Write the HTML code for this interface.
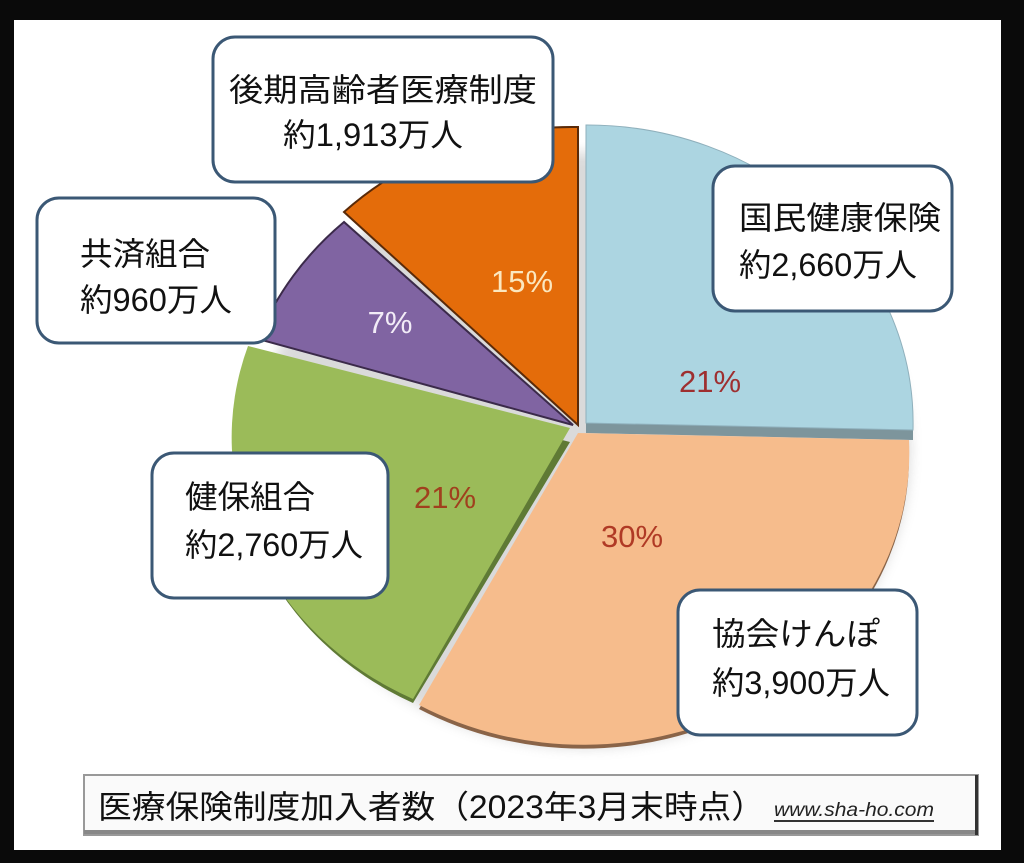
<!DOCTYPE html>
<html><head><meta charset="utf-8"><style>
html,body{margin:0;padding:0;background:#000;}
svg{display:block}
text{font-family:"Liberation Sans","Noto Sans CJK JP",sans-serif;}
</style></head><body>
<svg width="1024" height="863" viewBox="0 0 1024 863" xmlns="http://www.w3.org/2000/svg">
<rect x="0" y="0" width="1024" height="863" fill="#0a0a0a"/>
<rect x="14" y="20" width="987" height="830" fill="#ffffff"/>
<defs>
<filter id="sh" x="-10%" y="-10%" width="120%" height="130%"><feGaussianBlur stdDeviation="6"/></filter>
</defs>
<ellipse cx="585" cy="450" rx="325" ry="298" fill="#888" opacity="0.3" filter="url(#sh)"/>
<!-- 3D sides -->
<g transform="translate(0,14)">
<path d="M578,433 L909,440 A326,292 0 0 1 419,695 Z" fill="#8a6448"/>
<path d="M570,428 L413,689 A326,292 0 0 1 248,346 Z" fill="#5f7a35"/>
</g>
<!-- slices -->
<path d="M586,433 L913,440 L913,430 L586,423 Z" fill="#7d959c"/>
<path d="M586,423 L586,125 A326,298 0 0 1 913,430 Z" fill="#acd5e1" stroke="#8fb0bc" stroke-width="1"/>
<path d="M578,433 L909,440 A326,292 0 0 1 419,705 Z" fill="#f6bc8c"/>
<path d="M570,428 L413,699 A326,292 0 0 1 248,346 Z" fill="#9bbb59"/>
<path d="M573,425 L258,339 A326,298 0 0 1 344,222 Z" fill="#8064a2" stroke="#3b2a4a" stroke-width="2"/>
<path d="M578,425 L344,212 A326,298 0 0 1 578,127 Z" fill="#e46c0a" stroke="#5a2a08" stroke-width="2"/>
<!-- percentages -->
<text x="522" y="292" font-size="31" fill="#fbe7bf" text-anchor="middle">15%</text>
<text x="390" y="333" font-size="31" fill="#f2ecf7" text-anchor="middle">7%</text>
<text x="710" y="392" font-size="31" fill="#9e2f30" text-anchor="middle">21%</text>
<text x="445" y="508" font-size="31" fill="#a0401e" text-anchor="middle">21%</text>
<text x="632" y="547" font-size="31" fill="#b03a25" text-anchor="middle">30%</text>
<!-- callouts -->
<g stroke="#3b5875" stroke-width="3" fill="#ffffff">
<rect x="213" y="37" width="340" height="145" rx="22"/>
<rect x="37" y="198" width="238" height="145" rx="22"/>
<rect x="713" y="166" width="239" height="145" rx="22"/>
<rect x="152" y="453" width="236" height="145" rx="22"/>
<rect x="678" y="590" width="239" height="145" rx="22"/>
</g>
<g font-size="32" fill="#111">
<text x="229" y="101" textLength="308" lengthAdjust="spacingAndGlyphs">後期高齢者医療制度</text>
<text x="283" y="146" textLength="180" lengthAdjust="spacingAndGlyphs">約1,913万人</text>
<text x="80" y="265" textLength="130" lengthAdjust="spacingAndGlyphs">共済組合</text>
<text x="80" y="311" textLength="152" lengthAdjust="spacingAndGlyphs">約960万人</text>
<text x="739" y="229" textLength="202" lengthAdjust="spacingAndGlyphs">国民健康保険</text>
<text x="739" y="276" textLength="178" lengthAdjust="spacingAndGlyphs">約2,660万人</text>
<text x="185" y="508" textLength="130" lengthAdjust="spacingAndGlyphs">健保組合</text>
<text x="185" y="556" textLength="178" lengthAdjust="spacingAndGlyphs">約2,760万人</text>
<text x="712" y="645" textLength="168" lengthAdjust="spacingAndGlyphs">協会けんぽ</text>
<text x="712" y="694" textLength="178" lengthAdjust="spacingAndGlyphs">約3,900万人</text>
</g>
<!-- caption -->
<rect x="84" y="775" width="894" height="60" fill="#fafafa" stroke="#999" stroke-width="2"/>
<rect x="84" y="830" width="894" height="4" fill="#888"/>
<rect x="975" y="775" width="3" height="60" fill="#333"/>
<text x="98" y="818" font-size="32" fill="#111" textLength="667" lengthAdjust="spacingAndGlyphs">医療保険制度加入者数（2023年3月末時点）</text>
<text x="774" y="816" font-size="19" font-style="italic" fill="#222" textLength="160" lengthAdjust="spacingAndGlyphs">www.sha-ho.com</text>
<rect x="774" y="820" width="160" height="2" fill="#333"/>
</svg>
</body></html>
